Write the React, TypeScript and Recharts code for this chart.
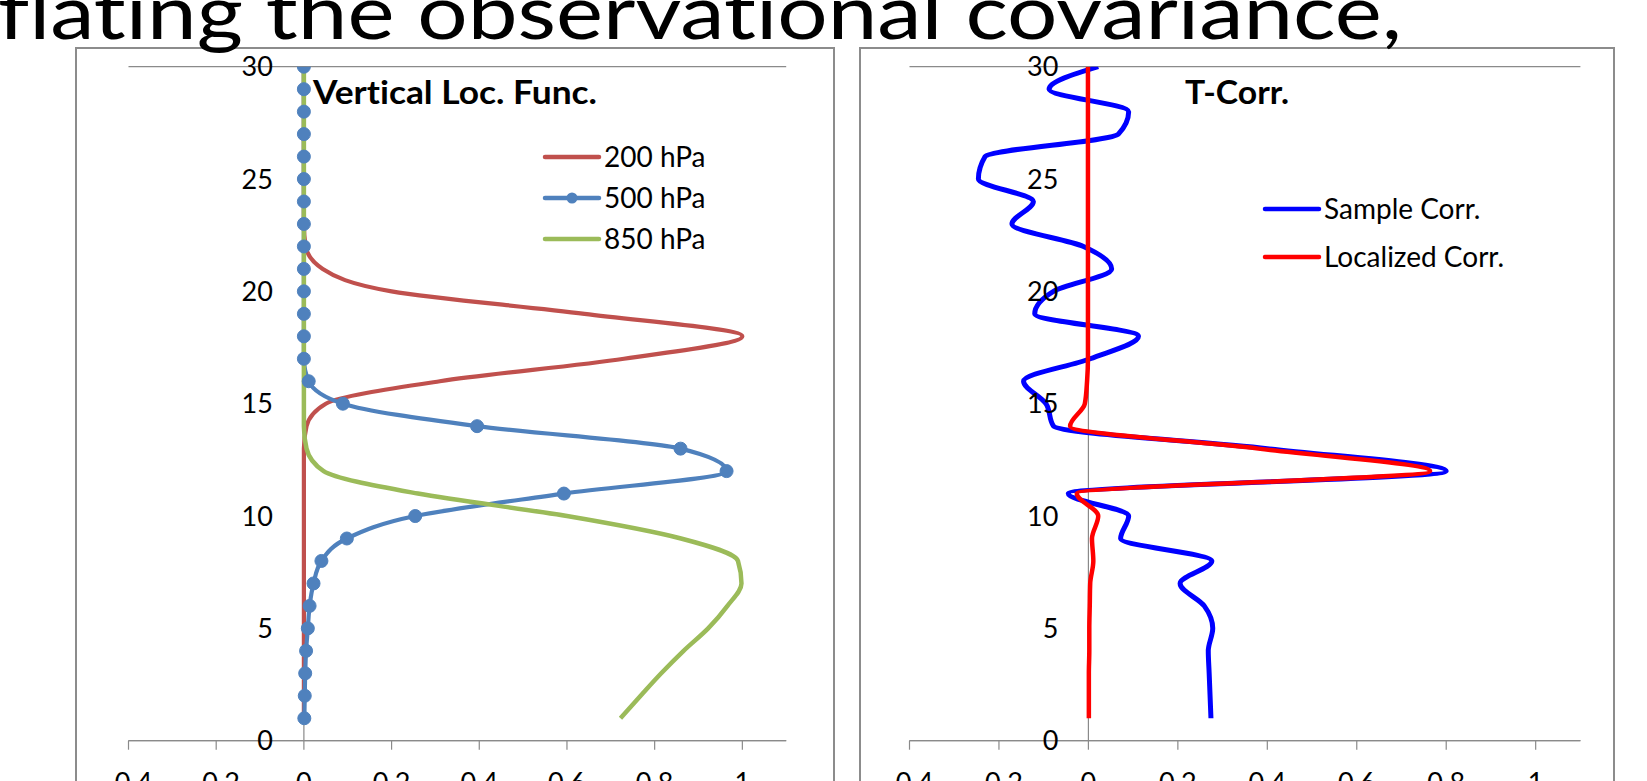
import React from 'react';
import { LineChart, Line, XAxis, YAxis, CartesianGrid, ReferenceLine, ReferenceDot, Legend } from 'recharts';

// ---- data (levels 1..30) ----
const levels = [1, 2, 3, 4, 5, 6, 7, 8, 9, 10, 11, 12, 13, 14, 15, 16, 17, 18, 19, 20, 21, 22, 23, 24, 25, 26, 27, 28, 29, 30];

const loc200 = [0, 0, 0, 0, 0, 0, 0, 0, 0, 0, 0, 0, 0, 0.006, 0.05, 0.31, 0.73, 1.0, 0.64, 0.2, 0.043, 0.004, 0, 0, 0, 0, 0, 0, 0, 0];
const loc500 = [0.001, 0.002, 0.003, 0.005, 0.009, 0.013, 0.022, 0.04, 0.098, 0.254, 0.593, 0.964, 0.859, 0.395, 0.089, 0.011, 0, 0, 0, 0, 0, 0, 0, 0, 0, 0, 0, 0, 0, 0];
const loc850 = [0.722, 0.768, 0.815, 0.866, 0.922, 0.966, 0.998, 0.99, 0.86, 0.6, 0.26, 0.045, 0.006, 0, 0, 0, 0, 0, 0, 0, 0, 0, 0, 0, 0, 0, 0, 0, 0, 0];

const sampleCorr = [0.274, 0.272, 0.27, 0.268, 0.278, 0.259, 0.205, 0.276, 0.072, 0.09, -0.045, 0.8, 0.4, -0.078, -0.095, -0.145, 0.004, 0.112, -0.12, -0.078, 0.052, -0.011, -0.171, -0.123, -0.246, -0.231, 0.067, 0.09, -0.088, 0.022];
const localizedCorr = [0.001, 0.001, 0.001, 0.002, 0.002, 0.003, 0.004, 0.011, 0.008, 0.022, -0.026, 0.764, 0.38, -0.041, -0.008, -0.003, -0.001, -0.001, -0.001, -0.001, -0.001, -0.001, -0.001, -0.001, -0.001, -0.001, -0.001, -0.001, -0.001, -0.001];

const xTicks = [-0.4, -0.2, 0, 0.2, 0.4, 0.6, 0.8, 1];
const yTicks = [0, 5, 10, 15, 20, 25, 30];
const xDomain: [number, number] = [-0.4, 1.1];
const yDomain: [number, number] = [0, 30];

const leftSeries = [
  { key: 'p200', name: '200 hPa', color: '#C0504D', marker: false },
  { key: 'p500', name: '500 hPa', color: '#4F81BD', marker: true },
  { key: 'p850', name: '850 hPa', color: '#9BBB59', marker: false },
];
const rightSeries = [
  { key: 'sample', name: 'Sample Corr.', color: '#0000FF', marker: false },
  { key: 'localized', name: 'Localized Corr.', color: '#FF0000', marker: false },
];

const leftData = levels.map((level, i) => ({ level, p200: loc200[i], p500: loc500[i], p850: loc850[i] }));
const rightData = levels.map((level, i) => ({ level, sample: sampleCorr[i], localized: localizedCorr[i] }));

const FONT = 'Lato';
const GRID = '#8a8a8a';

const fmt = (v: number) => String(Math.round(v * 10) / 10);

function makeLegend(items: typeof leftSeries, rowGap: number, w: number, h: number) {
  return () => (
    <svg width={w} height={h} style={{ overflow: 'visible' }}>
      {items.map((it, i) => {
        const y = 20 + i * rowGap;
        return (
          <g key={it.key}>
            <line x1={0} x2={54} y1={y} y2={y} stroke={it.color} strokeWidth={4.5} strokeLinecap="round" />
            {it.marker && <circle cx={27} cy={y} r={5.5} fill={it.color} />}
            <text x={59} y={y} dy="0.36em" fontSize={28} fontFamily={FONT} fill="#000">{it.name}</text>
          </g>
        );
      })}
    </svg>
  );
}

function axesAndGrid(labelOffset: number) {
  return [
    <CartesianGrid key="g" vertical={false} stroke={GRID} strokeWidth={1.2} />,
    <XAxis
      key="x"
      type="number"
      domain={xDomain}
      ticks={xTicks}
      height={40}
      tickFormatter={fmt}
      tickSize={9}
      tickMargin={23}
      axisLine={{ stroke: GRID, strokeWidth: 1.2 }}
      tickLine={{ stroke: GRID, strokeWidth: 1.2 }}
      tick={{ fill: '#000', fontSize: 27, fontFamily: FONT }}
      allowDataOverflow
    />,
    <YAxis key="y" type="number" dataKey="level" domain={yDomain} ticks={yTicks} width={0} reversed tick={false} axisLine={false} tickLine={false} allowDataOverflow />,
    <ReferenceLine key="r0" x={0} stroke={GRID} strokeWidth={1.2} />,
    ...yTicks.map((t) => (
      <ReferenceDot
        key={'yl' + t}
        x={0}
        y={t}
        r={0}
        fill="none"
        stroke="none"
        label={{ value: String(t), position: 'left', offset: labelOffset, fill: '#000', fontSize: 27, fontFamily: FONT }}
      />
    )),
  ];
}

export default function App() {
  return (
    <div style={{ position: 'fixed', left: 0, top: 0, width: 1647, height: 781, background: '#fff', overflow: 'hidden' }}>
      {/* chart frames */}
      <div style={{ position: 'absolute', left: 75, top: 47, width: 760, height: 800, border: '2px solid #8c8c8c', boxSizing: 'border-box' }} />
      <div style={{ position: 'absolute', left: 859, top: 47, width: 756, height: 800, border: '2px solid #8c8c8c', boxSizing: 'border-box' }} />

      <div style={{ position: 'absolute', left: 75, top: 47 }}>
        <LineChart layout="vertical" width={760} height={734} data={leftData} margin={{ top: 19.7, right: 48.8, bottom: 0.3, left: 53.5 }}>
          {axesAndGrid(31)}
          <Line type="monotone" dataKey="p200" name="200 hPa" stroke="#C0504D" strokeWidth={4.2} dot={false} isAnimationActive={false} />
          <Line type="monotone" dataKey="p500" name="500 hPa" stroke="#4F81BD" strokeWidth={4.2} dot={{ r: 6.5, fill: '#4F81BD', stroke: '#4F81BD', strokeWidth: 1 }} isAnimationActive={false} />
          <Line type="monotone" dataKey="p850" name="850 hPa" stroke="#9BBB59" strokeWidth={4.5} dot={false} isAnimationActive={false} />
          <Legend layout="vertical" align="center" verticalAlign="middle" wrapperStyle={{ left: 470, top: 90, width: 220, height: 125 }} content={makeLegend(leftSeries, 41, 220, 125)} />
        </LineChart>
      </div>

      <div style={{ position: 'absolute', left: 859, top: 47 }}>
        <LineChart layout="vertical" width={757} height={734} data={rightData} margin={{ top: 19.7, right: 35.6, bottom: 0.3, left: 50.5 }}>
          {axesAndGrid(30)}
          <Line type="monotone" dataKey="sample" name="Sample Corr." stroke="#0000FF" strokeWidth={5} dot={false} isAnimationActive={false} />
          <Line type="monotone" dataKey="localized" name="Localized Corr." stroke="#FF0000" strokeWidth={4.5} dot={false} isAnimationActive={false} />
          <Legend layout="vertical" align="center" verticalAlign="middle" wrapperStyle={{ left: 406, top: 142, width: 260, height: 95 }} content={makeLegend(rightSeries, 48, 260, 95)} />
        </LineChart>
      </div>

      <svg width={1647} height={781} style={{ position: 'absolute', left: 0, top: 0, pointerEvents: 'none', fontVariantLigatures: 'none' }}>
        <text x={-2} y={39} fontSize={75} fontFamily={FONT} fill="#000" textLength={1404} lengthAdjust="spacingAndGlyphs">flating the observational covariance,</text>
        <text x={313} y={104} fontSize={32} fontWeight="bold" fontFamily={FONT} fill="#000" textLength={284} lengthAdjust="spacingAndGlyphs">Vertical Loc. Func.</text>
        <text x={1185} y={104} fontSize={32} fontWeight="bold" fontFamily={FONT} fill="#000" textLength={104} lengthAdjust="spacingAndGlyphs">T-Corr.</text>
      </svg>
    </div>
  );
}
